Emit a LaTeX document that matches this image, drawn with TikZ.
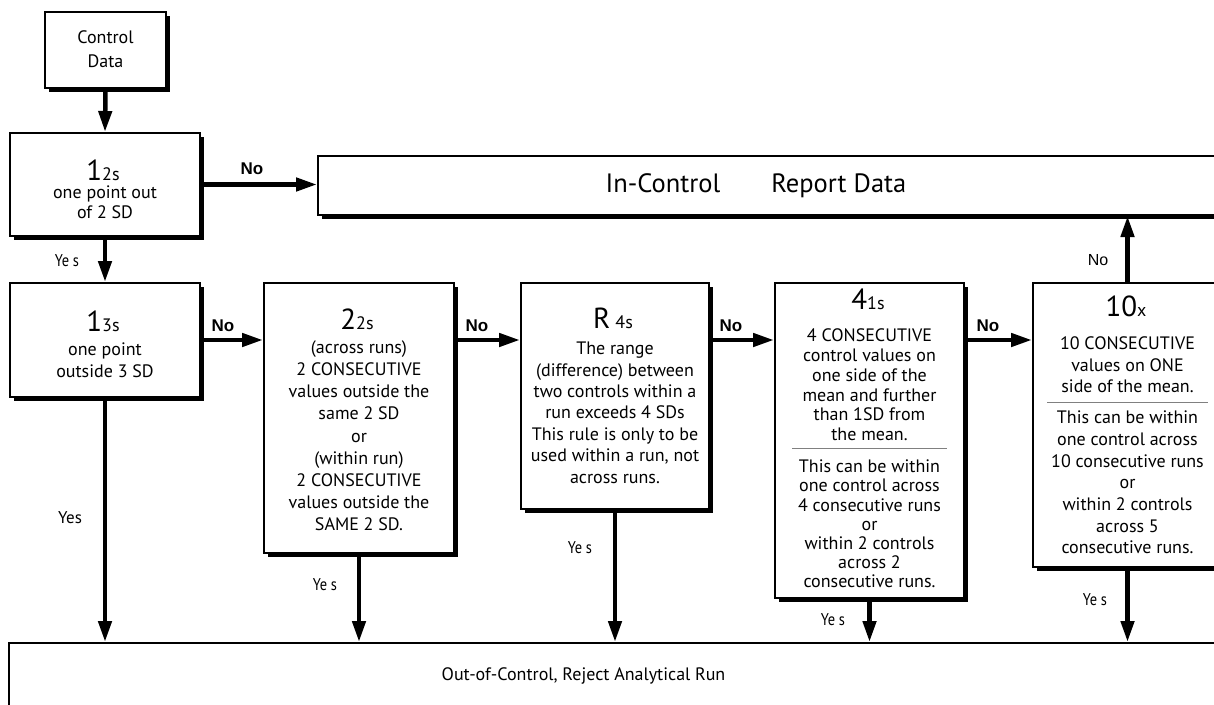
\documentclass[tikz,border=0pt]{standalone}
\usepackage{fontspec}
\setmainfont{PT Sans}
\newfontfamily\condf[FakeStretch=0.85]{PT Sans}
\newfontfamily\arialf{Liberation Sans}
\usetikzlibrary{arrows.meta,shadows}
\tikzset{
  box/.style={draw=black, line width=2pt, fill=white, inner sep=0pt,
    drop shadow={shadow xshift=4pt, shadow yshift=-4pt, opacity=1, fill=black}},
  flow/.style={line width=4.5pt, -{Triangle[length=21pt,width=13pt]}},
  body/.style={align=center, inner sep=0pt, anchor=north},
  ttl/.style={inner sep=0pt, anchor=base},
  nolbl/.style={font=\arialf\bfseries\fontsize{17}{17}\selectfont, inner sep=0pt},
  nolblr/.style={font=\arialf\fontsize{16}{16}\selectfont, inner sep=0pt},
  yeslbl/.style={font=\condf\fontsize{17}{17}\selectfont, inner sep=0pt},
  yesn/.style={font=\fontsize{17}{17}\selectfont, inner sep=0pt},
  hrule/.style={draw=gray, line width=0.8pt},
}
\newcommand\mkbox[5]{\node[box, minimum width={(#4-#2)*1pt}, minimum height={(#5-#3)*1pt}] (#1) at ({(#2+#4)/2},{(#3+#5)/2}) {};}
\newcommand\ttlf[2]{{\fontsize{29}{29}\selectfont #1}{\fontsize{18}{18}\selectfont #2}}
\begin{document}
\begin{tikzpicture}[x=1pt,y=-1pt]
\useasboundingbox (0,0) rectangle (1214,704);
\clip (0,0) rectangle (1214,704);
% boxes
\mkbox{cd}{45}{12}{166}{88}
\mkbox{b12}{10}{133}{200}{236}
\mkbox{inc}{318}{156}{1250}{215}
\mkbox{b13}{10}{283}{200}{397}
\mkbox{b22}{264}{283}{454}{553}
\mkbox{br4}{521}{283}{709}{509}
\mkbox{b41}{775}{283}{964}{598}
\mkbox{b10}{1033}{283}{1222}{567}
\mkbox{out}{9}{643}{1250}{730}
% texts
\node[body, font=\fontsize{18}{24}\selectfont] (cdt) at (105.5,26.7) {\strut Control\\Data};
\node[ttl] (t12) at (103,180) {\ttlf{1}{2s}};
\node[body, font=\fontsize{18}{19.5}\selectfont] (b12t) at (105,184.9) {\strut one point out\\of 2 SD};
\node[ttl, font=\fontsize{26.5}{26.5}\selectfont] (inct) at (756,192) {In-Control\hspace{51pt}Report Data};
\node[ttl] (t13) at (103,331) {\ttlf{1}{3s}};
\node[body, font=\fontsize{18}{22}\selectfont] (b13t) at (105,340.1) {\strut one point\\outside 3 SD};
\node[ttl] (t22) at (357,329) {\ttlf{2}{2s}};
\node[body, font=\fontsize{18}{22.1}\selectfont] (b22t) at (359,338) {\strut (across runs)\\2 CONSECUTIVE\\values outside the\\same 2 SD\\or\\(within run)\\2 CONSECUTIVE\\values outside the\\SAME 2 SD.};
\node[ttl] (tr4) at (613,328) {\ttlf{R}{\hspace{5pt}4s}};
\node[body, font=\fontsize{18}{21.4}\selectfont] (br4t) at (615,339.5) {\strut The range\\(difference) between\\two controls within a\\run exceeds 4 SDs\\This rule is only to be\\used within a run, not\\across runs.};
\node[ttl] (t41) at (868,309) {\ttlf{4}{1s}};
\node[body, font=\fontsize{18}{19.8}\selectfont] (b41a) at (869.5,327.6) {\strut 4 CONSECUTIVE\\control values on\\one side of the\\mean and further\\than 1SD from\\the mean.};
\node[body, font=\fontsize{18}{19.2}\selectfont] (b41b) at (869.5,459) {\strut This can be within\\one control across\\4 consecutive runs\\or\\within 2 controls\\across 2\\consecutive runs.};
\node[ttl] (t10) at (1126,316) {\ttlf{10}{x}};
\node[body, font=\fontsize{18}{21.5}\selectfont] (b10a) at (1127.5,334.5) {\strut 10 CONSECUTIVE\\values on ONE\\side of the mean.};
\node[body, font=\fontsize{18}{21.7}\selectfont] (b10b) at (1127.5,408.3) {\strut This can be within\\one control across\\10 consecutive runs\\or\\within 2 controls\\across 5\\consecutive runs.};
\node[ttl, font=\fontsize{18}{18}\selectfont] (outt) at (583.5,680) {Out-of-Control, Reject Analytical Run};
% rules
\draw[hrule] (792,448) -- (947,448);
\draw[hrule] (1047,402) -- (1208,402);
% arrows
\draw[flow] (cd.south) -- (b12.north);
\draw[flow] (b12.east) -- (b12.east -| inc.west);
\draw[flow] (b12.south) -- (b13.north);
\draw[flow] (b13.east) -- (b13.east -| b22.west);
\draw[flow] (b22.east |- b13.east) -- (br4.west |- b13.east);
\draw[flow] (br4.east |- b13.east) -- (b41.west |- b13.east);
\draw[flow] (b41.east |- b13.east) -- (b10.west |- b13.east);
\draw[flow] (b10.north) -- (b10.north |- inc.south);
\draw[flow] (b13.south) -- (b13.south |- out.north);
\draw[flow] (b22.south) -- (b22.south |- out.north);
\draw[flow] (br4.south) -- (br4.south |- out.north);
\draw[flow] (b41.south) -- (b41.south |- out.north);
\draw[flow] (b10.south) -- (b10.south |- out.north);
% labels
\node[nolbl] (n1) at (252,169) {No};
\node[yeslbl] (y1) at (67,261) {Ye s};
\node[nolbl] (n2) at (223,326) {No};
\node[nolbl] (n3) at (477,326) {No};
\node[nolbl] (n4) at (731,326) {No};
\node[nolbl] (n5) at (988,326) {No};
\node[nolblr] (n6) at (1098,260) {No};
\node[yesn] (y2) at (70,518) {Yes};
\node[yeslbl] (y3) at (325,585) {Ye s};
\node[yeslbl] (y4) at (580,548) {Ye s};
\node[yeslbl] (y5) at (833,620) {Ye s};
\node[yeslbl] (y6) at (1095,600) {Ye s};
\end{tikzpicture}
\end{document}
